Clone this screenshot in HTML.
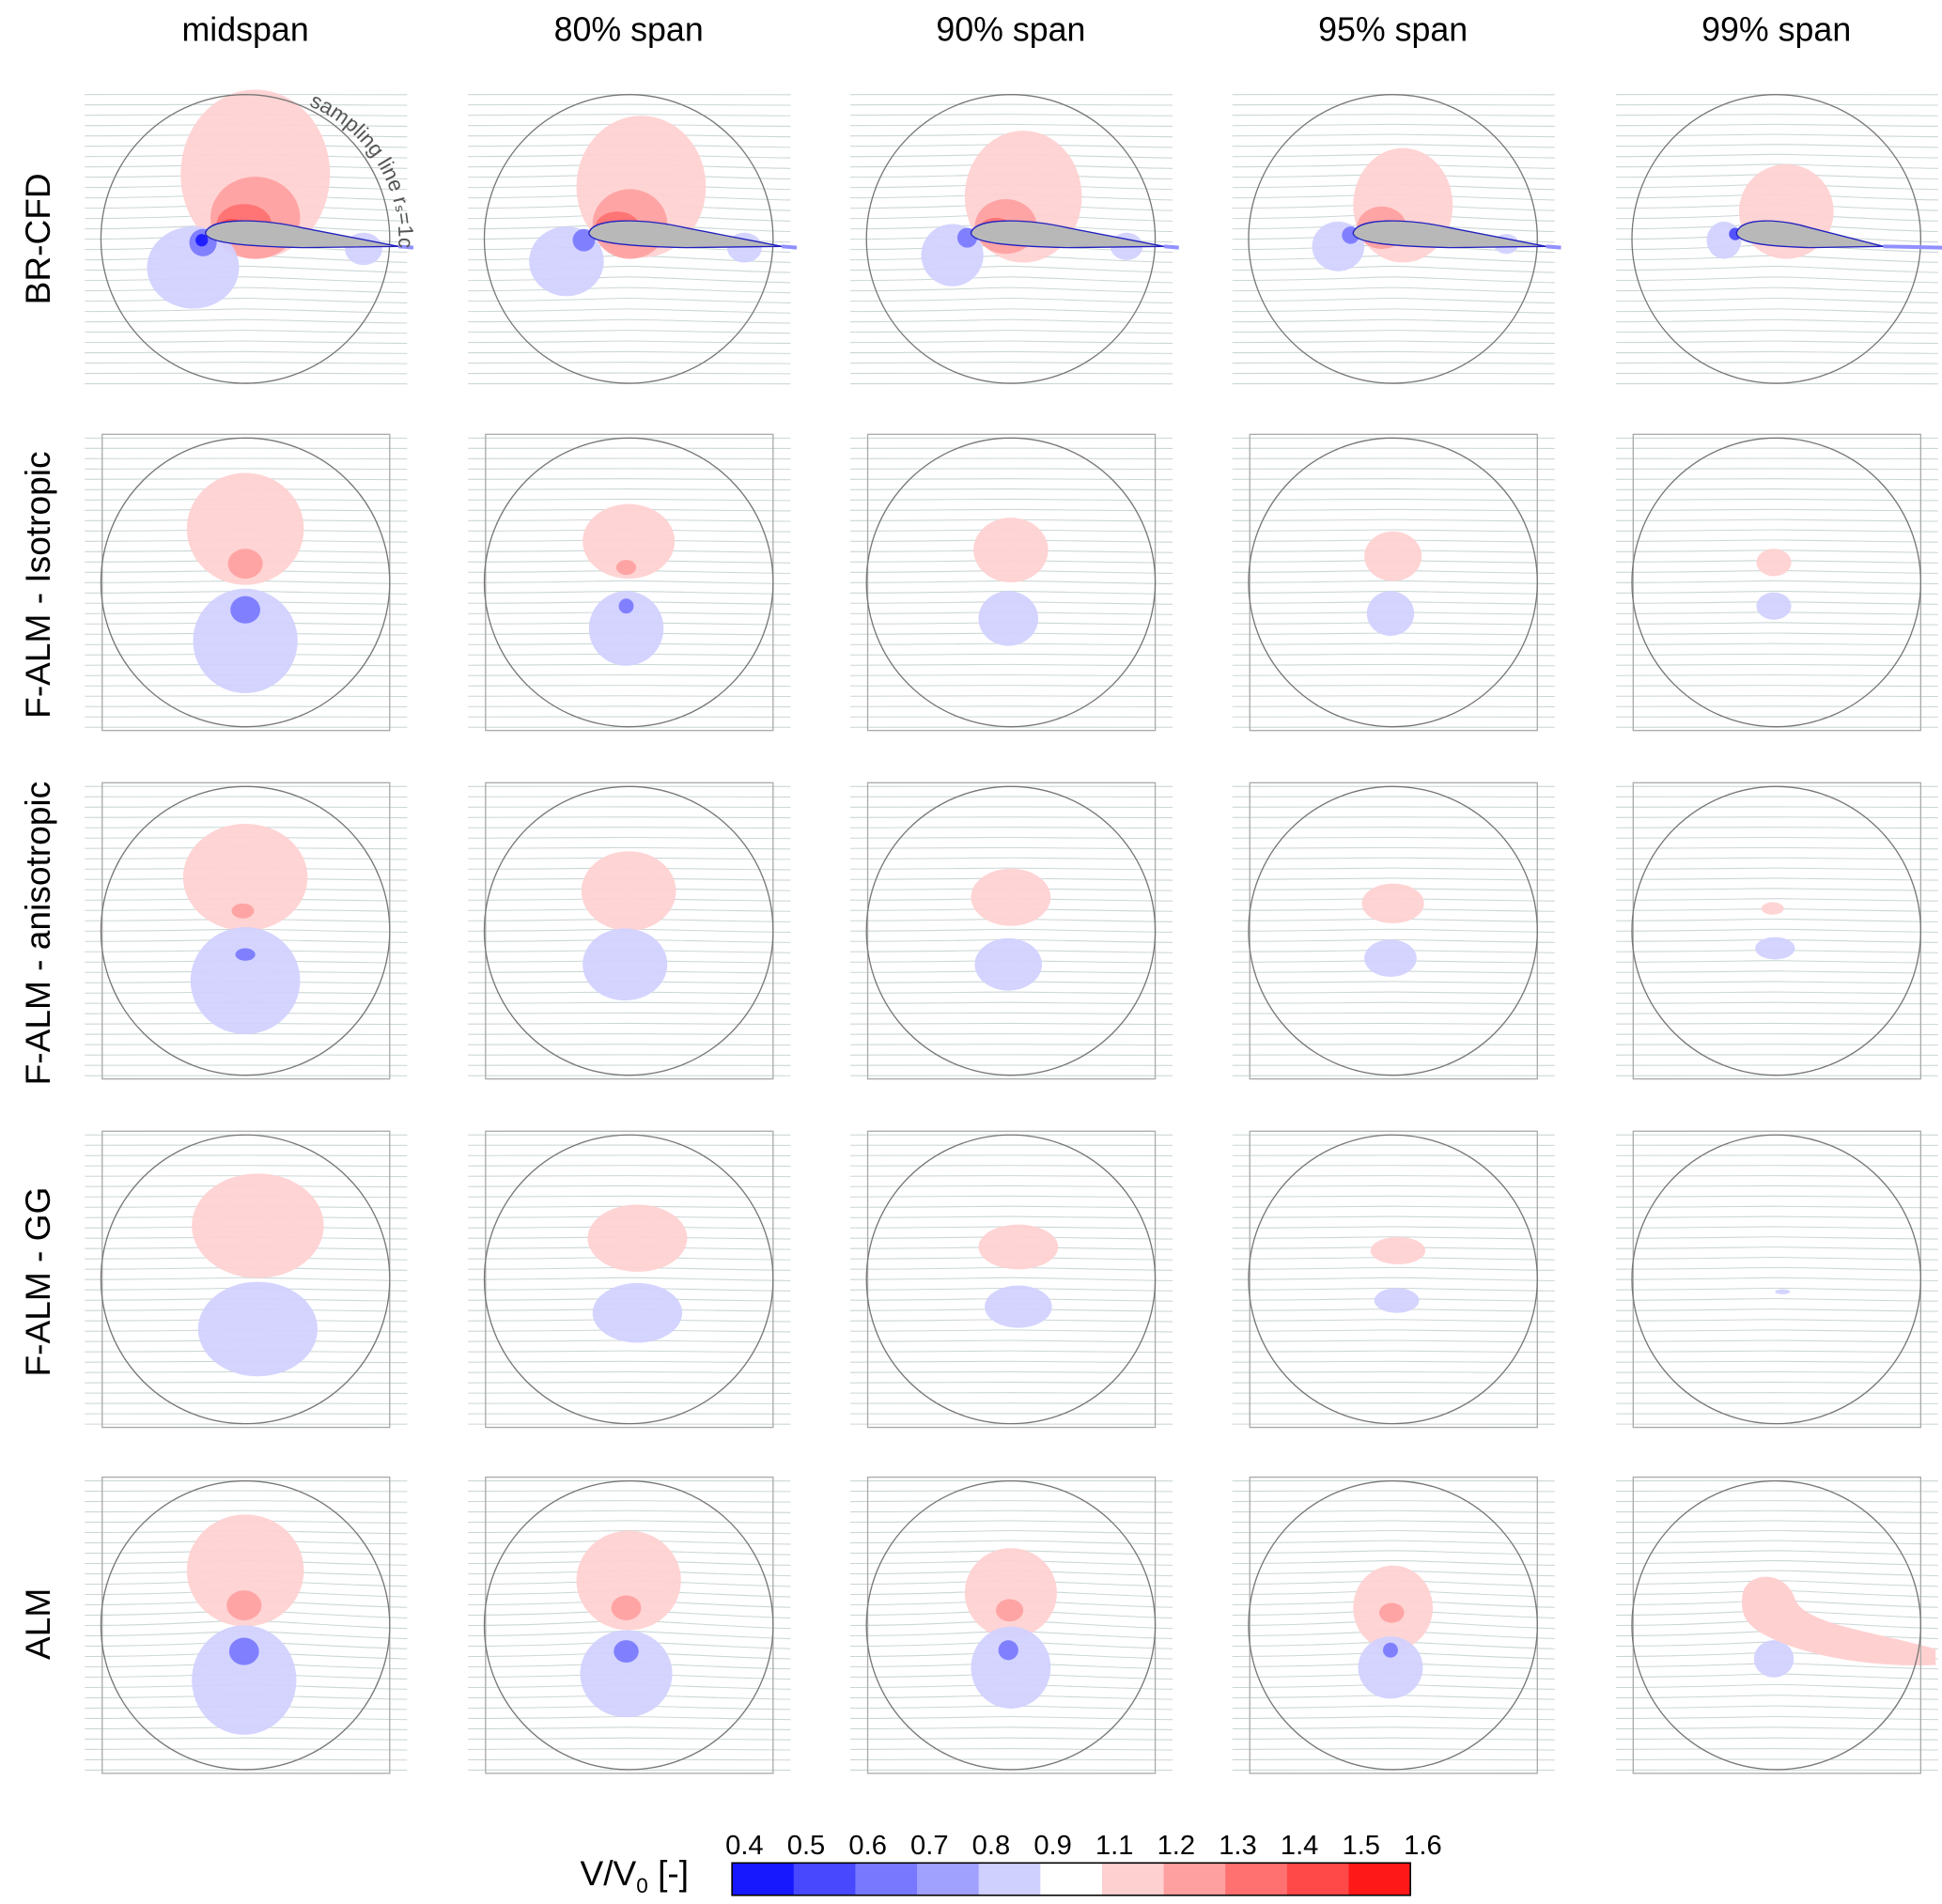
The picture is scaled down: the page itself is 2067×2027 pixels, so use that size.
<!DOCTYPE html>
<html><head><meta charset="utf-8"><style>
html,body{margin:0;padding:0;background:#fff}
svg{display:block}
text{font-family:"Liberation Sans",Arial,sans-serif}
</style></head><body>
<svg id="fig" width="2067" height="2027" viewBox="0 0 1560 1530" xmlns="http://www.w3.org/2000/svg">
<g id="titles" font-size="27" text-anchor="middle" fill="#000">
<text x="197" y="33">midspan</text>
<text x="505" y="33">80% span</text>
<text x="812" y="33">90% span</text>
<text x="1119" y="33">95% span</text>
<text x="1427" y="33">99% span</text>
</g>
<g font-size="28" text-anchor="middle" fill="#000">
<text transform="translate(40,192) rotate(-90)">BR-CFD</text>
<text transform="translate(40,470) rotate(-90)">F-ALM - Isotropic</text>
<text transform="translate(40,750) rotate(-90)">F-ALM - anisotropic</text>
<text transform="translate(40,1030) rotate(-90)">F-ALM - GG</text>
<text transform="translate(40,1305) rotate(-90)">ALM</text>
</g>
<g id="panels"></g>
<g id="cbar"></g>
</svg>
<script>
const NS="http://www.w3.org/2000/svg";
const levels=["0.4","0.5","0.6","0.7","0.8","0.9","1.1","1.2","1.3","1.4","1.5","1.6"];
const levelColors=["#1818ff","#4848ff","#7878ff","#a0a0ff","#d0d0ff","#ffffff","#ffd0d0","#ffa0a0","#ff7070","#ff4848","#ff1818"];
const colCenters=[197,505,812,1119,1427];
const rowCenters=[192,468,748,1028,1306];
// blobs: [col,row,cx,cy,rx,ry,colorIndex]
const blobs=[
[0,0,205,140,60,68,6],[0,0,205,175,36,33,7],[0,0,196,180,22,16,8],[0,0,186,184,12,8,9],
[0,0,155,215,37,33,4],[0,0,163,195,11,11,2],[0,0,162,193,5,5,0],[0,0,292,200,15,13,4],
[1,0,515,150,52,57,6],[1,0,506,180,30,28,7],[1,0,496,183,18,13,8],[1,0,455,210,30,28,4],[1,0,469,193,9,9,2],[1,0,598,199,14,12,4],
[2,0,822,158,47,53,6],[2,0,808,182,25,22,7],[2,0,800,185,14,10,8],[2,0,765,205,25,25,4],[2,0,777,191,8,8,2],[2,0,905,198,13,11,4],
[3,0,1127,165,40,46,6],[3,0,1110,183,20,17,7],[3,0,1104,186,11,8,8],[3,0,1075,198,21,20,4],[3,0,1085,189,7,7,2],[3,0,1210,196,10,8,4],
[4,0,1435,170,38,38,6],[4,0,1410,186,11,7,7],[4,0,1385,193,14,15,4],[4,0,1394,188,5,5,1],
[0,1,197,425,47,45,6],[0,1,197,453,14,12,7],[0,1,197,515,42,42,4],[0,1,197,490,12,11,2],
[1,1,505,435,37,30,6],[1,1,503,456,8,6,7],[1,1,503,505,30,30,4],[1,1,503,487,6,6,2],
[2,1,812,442,30,26,6],[2,1,810,497,24,22,4],
[3,1,1119,447,23,20,6],[3,1,1117,493,19,18,4],
[4,1,1425,452,14,11,6],[4,1,1425,487,14,11,4],
[0,2,197,705,50,43,6],[0,2,195,732,9,6,7],[0,2,197,788,44,43,4],[0,2,197,767,8,5,2],
[1,2,505,716,38,32,6],[1,2,502,775,34,29,4],
[2,2,812,721,32,23,6],[2,2,810,775,27,21,4],
[3,2,1119,726,25,16,6],[3,2,1117,770,21,15,4],
[4,2,1424,730,9,5,6],[4,2,1426,762,16,9,4],
[0,3,207,985,53,42,6],[0,3,207,1068,48,38,4],
[1,3,512,995,40,27,6],[1,3,512,1055,36,24,4],
[2,3,818,1002,32,18,6],[2,3,818,1050,27,17,4],
[3,3,1123,1005,22,11,6],[3,3,1122,1045,18,10,4],
[4,3,1432,1038,6,2,4],
[0,4,197,1262,47,45,6],[0,4,196,1290,14,12,7],[0,4,196,1350,42,44,4],[0,4,196,1327,12,11,2],
[1,4,505,1270,42,40,6],[1,4,503,1292,12,10,7],[1,4,503,1345,37,35,4],[1,4,503,1327,10,9,2],
[2,4,812,1280,37,36,6],[2,4,811,1294,11,9,7],[2,4,812,1340,32,33,4],[2,4,810,1326,8,8,2],
[3,4,1119,1292,32,34,6],[3,4,1118,1296,10,8,7],[3,4,1117,1340,26,25,4],[3,4,1117,1326,6,6,2],
[4,4,1425,1333,16,15,4]
];
const panels=document.getElementById('panels');
function el(t,a,p){const e=document.createElementNS(NS,t);for(const k in a)e.setAttribute(k,a[k]);(p||panels).appendChild(e);return e;}
for(let r=0;r<5;r++){for(let c=0;c<5;c++){
  const cx=colCenters[c],cy=rowCenters[r];
  const g=el('g',{});
  
  
  const x0=cx-129,x1=cx+130,y0=cy-119,y1=cy+119;
  for(let y=y0+3;y<y1;y+=8.3){
    const bend=(r===0||r===4)?Math.max(0,1-Math.abs(y-cy)/120)*4:1.5*Math.max(0,1-Math.abs(y-cy)/120);
    const l=el('path',{d:`M${x0} ${y} C${cx-60} ${y} ${cx-20} ${y-bend} ${cx} ${y-bend} S${cx+80} ${y+bend*0.3} ${x1} ${y+bend*0.6}`,fill:'none',stroke:'#ccd6d6','stroke-width':0.8},g);
    
    
  }
  blobs.filter(b=>b[0]===c&&b[1]===r).forEach(b=>{
    const e=el('ellipse',{cx:b[2],cy:b[3],rx:b[4],ry:b[5],fill:levelColors[b[6]],'fill-opacity':0.92},g);
    
    
  });
  if(r===4&&c===4){
    const p=el('path',{d:`M1400 1280 C1405 1262 1435 1262 1442 1285 C1450 1305 1500 1310 1555 1325 L1555 1338 C1500 1340 1450 1330 1420 1315 C1400 1305 1398 1295 1400 1280 Z`,fill:'#ffd0d0'},g);
    
    
  }
  if(r>0){
    const bx=el('rect',{x:x0+14,y:y0,width:231,height:y1-y0,fill:'none',stroke:'#aaa','stroke-width':1},g);
    
    
  }
  const ci=el('circle',{cx:cx,cy:cy,r:116,fill:'none',stroke:'#777','stroke-width':1},g);
  
  
  if(r===0){
    const ch=c===4?118:155, le=cx-32, ly=cy-5;
    const af=el('path',{d:`M${le} ${ly} C${le+4} ${ly-13} ${le+ch*0.3} ${ly-11} ${le+ch*0.5} ${ly-4} L${le+ch} ${ly+11} L${le+ch*0.5} ${ly+12} C${le+ch*0.25} ${ly+11} ${le} ${ly+9} ${le} ${ly} Z`,fill:'#b8b8b8',stroke:'#2020c0','stroke-width':1},g);
    
    
    const w=el('path',{d:`M${le+ch} ${ly+11} L${cx+135} ${ly+12}`,stroke:'#9090ff','stroke-width':3,fill:'none'},g);
    
    
  }
}}
el('path',{id:'arc',d:'M248 85 A116 116 0 0 1 314 230',fill:'none'});
const t=el('text',{'font-size':17,fill:'#555'});


const tp=document.createElementNS(NS,'textPath');tp.setAttribute('href','#arc');tp.textContent='sampling line r\u209B=1c';t.appendChild(tp);
const cb=document.getElementById('cbar');
const bx0=588,bw=545,by=1497,bh=26,n=levelColors.length;
levelColors.forEach((col,i)=>{
  const r=el('rect',{x:bx0+i*bw/n,y:by,width:bw/n+0.5,height:bh,fill:col},cb);
  
  
});
const fr=el('rect',{x:bx0,y:by,width:bw,height:bh,fill:'none',stroke:'#000','stroke-width':1.2},cb);


levels.forEach((lv,i)=>{
  const tx=el('text',{x:bx0+10+i*bw/n,y:1490,'font-size':22,'text-anchor':'middle'},cb);
  
  
  tx.textContent=lv;
});
const ttl=el('text',{x:466,y:1515,'font-size':28},cb);


ttl.innerHTML='V/V<tspan font-size="17" dy="6">0</tspan><tspan dy="-6"> [-]</tspan>';
</script>
</body></html>
